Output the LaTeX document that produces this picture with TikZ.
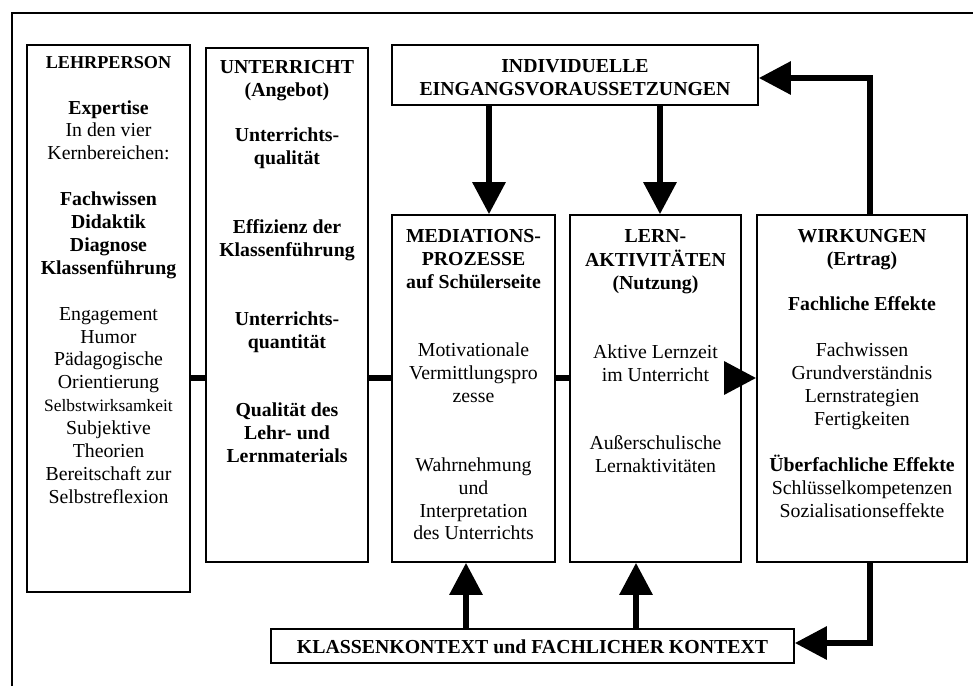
\documentclass[tikz,border=0pt]{standalone}
\usepackage{fontspec}
\setmainfont{Liberation Serif}
\usetikzlibrary{arrows.meta}

\newcommand{\grundschrift}{\fontsize{19.8pt}{22.9pt}\selectfont}
\newcommand{\kleinschrift}{\fontsize{18.2pt}{22.9pt}\selectfont}
\newcommand{\winzigschrift}{\fontsize{17.4pt}{22.9pt}\selectfont}

\begin{document}
\begin{tikzpicture}[x=1pt, y=-1pt,
  kasten/.style={shape=rectangle, draw, line width=1.6pt, inner sep=0pt},
  txt/.style={anchor=north, align=center, inner sep=0pt, font=\grundschrift},
  verbinder/.style={line width=6pt},
  pfeil/.style={line width=6pt, -{Triangle[length=32pt, width=32pt]}}]
  \useasboundingbox (0,0) rectangle (973,686);
  % Rahmen (angeschnitten)
  \draw[line width=1.4pt] (12,686) -- (12,13) -- (973,13);
  % Kaesten
  \node[kasten, minimum width=163pt, minimum height=547pt] (lehrperson) at (108.5,318.5){};
  \node[kasten, minimum width=162pt, minimum height=514pt] (unterricht) at (287,305){};
  \node[kasten, minimum width=366pt, minimum height=60pt] (eingang) at (575,75){};
  \node[kasten, minimum width=163pt, minimum height=347pt] (mediation) at (473.5,388.5){};
  \node[kasten, minimum width=171pt, minimum height=347pt] (lernakt) at (655.5,388.5){};
  \node[kasten, minimum width=210pt, minimum height=347pt] (wirkung) at (862,388.5){};
  \node[kasten, minimum width=523pt, minimum height=34pt] (kontext) at (532.5,646){};
  % Texte
  \node[txt] (lehrtext) at (108.5,52){\strut{\kleinschrift\textbf{LEHRPERSON}}\\[22.9pt]
    \textbf{Expertise}\\ In den vier\\ Kernbereichen:\\[22.9pt]
    \textbf{Fachwissen}\\ \textbf{Didaktik}\\ \textbf{Diagnose}\\ \textbf{Klassenführung}\\[22.9pt]
    Engagement\\ Humor\\ Pädagogische\\ Orientierung\\ {\winzigschrift Selbstwirksamkeit}\\
    Subjektive\\ Theorien\\ Bereitschaft zur\\ Selbstreflexion};
  \node[txt, font=\grundschrift\bfseries] (untertext) at (287,57){\strut UNTERRICHT\\ (Angebot)\\[22.9pt]
    Unterrichts-\\ qualität\\[45.8pt]
    Effizienz der\\ Klassenführung\\[45.8pt]
    Unterrichts-\\ quantität\\[45.8pt]
    Qualität des\\ Lehr- und\\ Lernmaterials};
  \node[txt, font=\grundschrift\bfseries] (eingangtext) at (575,56){\strut INDIVIDUELLE\\ EINGANGSVORAUSSETZUNGEN};
  \node[txt] (medtext) at (473.5,226){\strut\textbf{MEDIATIONS-}\\ \textbf{PROZESSE}\\ \textbf{auf Schülerseite}\\[45.8pt]
    Motivationale\\ Vermittlungspro\\ zesse\\[45.8pt]
    Wahrnehmung\\ und\\ Interpretation\\ des Unterrichts};
  \node[txt] (lerntext) at (655.5,226){\strut\textbf{LERN-}\\ \textbf{AKTIVITÄTEN}\\ \textbf{(Nutzung)}\\[45.8pt]
    Aktive Lernzeit\\ im Unterricht\\[45.8pt]
    Außerschulische\\ Lernaktivitäten};
  \node[txt] (wirktext) at (862,226){\strut\textbf{WIRKUNGEN}\\ \textbf{(Ertrag)}\\[22.9pt]
    \textbf{Fachliche Effekte}\\[22.9pt]
    Fachwissen\\ Grundverständnis\\ Lernstrategien\\ Fertigkeiten\\[22.9pt]
    \textbf{Überfachliche Effekte}\\ Schlüsselkompetenzen\\ Sozialisationseffekte};
  \node[txt, font=\grundschrift\bfseries] (kontexttext) at (532.5,637){\strut KLASSENKONTEXT und FACHLICHER KONTEXT};
  % Verbindungen
  \coordinate (mitte) at (0,378);
  \draw[verbinder] (lehrperson.east |- mitte) -- (unterricht.west |- mitte);
  \draw[verbinder] (unterricht.east |- mitte) -- (mediation.west |- mitte);
  \draw[verbinder] (mediation.east |- mitte) -- (lernakt.west |- mitte);
  \draw[pfeil] (lernakt.east |- mitte) -- (wirkung.west |- mitte);
  \draw[pfeil] (eingang.south -| 489,0) -- (mediation.north -| 489,0);
  \draw[pfeil] (eingang.south -| 660,0) -- (lernakt.north -| 660,0);
  \draw[pfeil] (kontext.north -| 466,0) -- (mediation.south -| 466,0);
  \draw[pfeil] (kontext.north -| 636,0) -- (lernakt.south -| 636,0);
  % Rueckkopplung
  \draw[pfeil] (wirkung.north -| 870,0) |- (eingang.east |- 0,78);
  \draw[pfeil] (wirkung.south -| 870,0) |- (kontext.east |- 0,643);
\end{tikzpicture}
\end{document}
